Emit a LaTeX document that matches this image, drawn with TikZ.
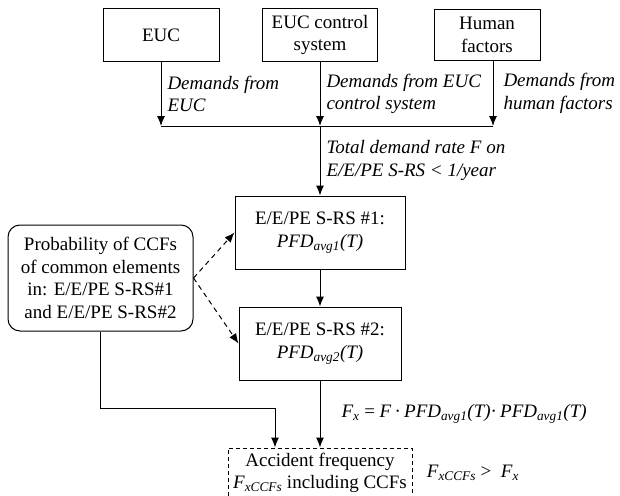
\documentclass[tikz,border=0pt]{standalone}
\usepackage{fontspec}
\setmainfont{Liberation Serif}
\usetikzlibrary{positioning, arrows.meta}

\begin{document}
\begin{tikzpicture}[x=1pt, y=1pt, >={Latex[length=10pt, width=8pt]}, line width=1pt, font=\fontsize{19}{22.7}\selectfont]
        \tikzstyle{box} = [rectangle, draw=black, line width=1pt, align=center, inner sep=2pt]
        \tikzstyle{srs_box} = [box, minimum height=73pt]
        \tikzstyle{ccf_box} = [box, rounded corners=12pt, minimum width=185pt, minimum height=106pt]
        \tikzstyle{acc_box} = [box, dash pattern=on 4pt off 3pt, line width=0.8pt, minimum width=184pt, minimum height=50pt]
        \tikzstyle{lbl} = [align=left, inner sep=0pt, font=\fontsize{19}{22.7}\selectfont\itshape]
        \tikzstyle{formula} = [align=left, inner sep=0pt, font=\fontsize{19}{22.7}\selectfont]

        \useasboundingbox (0,0) rectangle (620,-495);

        \node [box, minimum width=115pt, minimum height=52pt] (ctrl) at (320,-35) {EUC control\\system};
        \node [box, minimum width=116pt, minimum height=53pt, left=42.5pt of ctrl] (euc) {EUC};
        \node [box, minimum width=106pt, minimum height=51pt, right=55.5pt of ctrl] (human) {Human\\factors};

        \coordinate (bus) at (320,-126);

        \node [srs_box, minimum width=170pt, below=134pt of ctrl] (srs1) {E/E/PE S-RS \#1:\\\textit{PFD\textsubscript{avg1}(T)}};
        \node [srs_box, minimum width=162pt, below=37pt of srs1] (srs2) {E/E/PE S-RS \#2:\\\textit{PFD\textsubscript{avg2}(T)}};
        \node [ccf_box] (ccf) at (100.5,-278) {Probability of CCFs\\of common elements\\in: E/E/PE S-RS\#1\\and E/E/PE S-RS\#2};
        \node [acc_box, below=67pt of srs2] (acc) {Accident frequency\\\textit{F\textsubscript{xCCFs}} including CCFs};
        \node [formula, right=14pt of acc] (cmp) {\textit{F\textsubscript{xCCFs}} >\ \ \textit{F\textsubscript{x}}};

        \draw [->] (euc) -- node[lbl, right=6pt] {Demands from\\EUC} (euc |- bus);
        \draw [->] (ctrl) -- node[lbl, right=6pt] {Demands from EUC\\control system} (bus);
        \draw [->] ([xshift=6pt]human.south) -- node[lbl, right=10pt] {Demands from\\human factors} ([xshift=6pt]human.south |- bus);
        \draw (euc |- bus) -- ([xshift=6pt]human.south |- bus);

        \draw [->] (bus) -- node[lbl, right=6pt] {Total demand rate F on\\E/E/PE S-RS < 1/year} (srs1);
        \draw [->] (srs1) -- (srs2);
        \draw [->] (srs2) -- node[formula, right=21pt] {\textit{F\textsubscript{x}} = \textit{F}\,·\,\textit{PFD\textsubscript{avg1}(T)}·\,\textit{PFD\textsubscript{avg1}(T)}} (acc);

        \draw [->, dash pattern=on 5pt off 4pt] (ccf.east) -- (srs1.west);
        \draw [->, dash pattern=on 5pt off 4pt] (ccf.east) -- (srs2.west);
        \draw [->] (ccf.south) |- ([xshift=-45pt, yshift=39pt]acc.north) -- ([xshift=-45pt]acc.north);

    \end{tikzpicture}
\end{document}
